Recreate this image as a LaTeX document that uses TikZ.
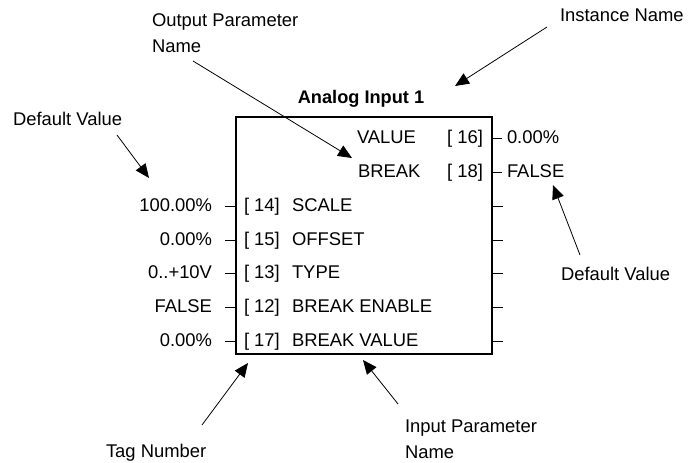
\documentclass[tikz,border=0pt]{standalone}
\usepackage{fontspec}
\setmainfont{Liberation Sans}
\usetikzlibrary{arrows.meta}
\begin{document}
\begin{tikzpicture}[x=1pt,y=-1pt,
  txt/.style={inner sep=0pt, outer sep=0pt, font=\fontsize{18.4}{22}\selectfont},
  ttl/.style={inner sep=0pt, outer sep=0pt, font=\fontsize{18.2}{22}\selectfont\bfseries},
  ann/.style={line width=0.8pt, -{Triangle[length=14pt,width=12pt]}},
  stub/.style={line width=0.9pt},
  blockbox/.style={draw, line width=2.2pt, inner sep=0pt, outer sep=0pt, minimum width=256pt, minimum height=237pt, anchor=north west}]
\useasboundingbox (0,0) rectangle (696,463);

% block
\node[blockbox] (blk) at (236,117) {};
\node[ttl, anchor=base] (title) at (361,103) {Analog Input 1};

% outputs
\node[txt, anchor=base west] (on1) at (357,143.3) {VALUE};
\node[txt, anchor=base east] (ot1) at (483,143.3) {[ 16]};
\node[txt, anchor=base west] (ov1) at (507,143.3) {0.00\%};
\draw[stub] (blk.east |- 0,138.3) -- ++(10,0);
\node[txt, anchor=base west] (on2) at (358,177.2) {BREAK};
\node[txt, anchor=base east] (ot2) at (483,177.2) {[ 18]};
\node[txt, anchor=base west] (ov2) at (507,177.2) {FALSE};
\draw[stub] (blk.east |- 0,172.2) -- ++(10,0);

% inputs
\foreach \v/\t/\n [count=\i] in {100.00\%/14/SCALE, 0.00\%/15/OFFSET, 0..+10V/13/TYPE, FALSE/12/BREAK ENABLE, 0.00\%/17/BREAK VALUE} {
  \pgfmathsetmacro\yb{143.3+33.9*(\i+1)}
  \pgfmathsetmacro\yt{\yb-5}
  \node[txt, anchor=base east] (lv\i) at (212,\yb) {\v};
  \node[txt, anchor=base west] (lt\i) at (244,\yb) {[ \t]};
  \node[txt, anchor=base west] (ln\i) at (292,\yb) {\n};
  \draw[stub] (blk.west |- 0,\yt) -- ++(-11,0);
  \draw[stub] (blk.east |- 0,\yt) -- ++(11,0);
}

% annotations
\node[txt, anchor=base west] (opa) at (152,26) {Output Parameter};
\node[txt, anchor=base west] (opb) at (152,52) {Name};
\node[txt, anchor=base west] (dvl) at (13,125) {Default Value};
\node[txt, anchor=base west] (inm) at (560,21) {Instance Name};
\node[txt, anchor=base west] (dvr) at (561,280) {Default Value};
\node[txt, anchor=base west] (tgn) at (106,457) {Tag Number};
\node[txt, anchor=base west] (ipa) at (405,432) {Input Parameter};
\node[txt, anchor=base west] (ipb) at (405,458) {Name};

\coordinate (a1s) at (193,61);  \coordinate (a1e) at (352,158);
\coordinate (a2s) at (117,135); \coordinate (a2e) at (149,178);
\coordinate (a3s) at (547,27);  \coordinate (a3e) at (455,86);
\coordinate (a4s) at (580,255); \coordinate (a4e) at (553,185);
\coordinate (a5s) at (202,425); \coordinate (a5e) at (248,363);
\coordinate (a6s) at (398,404); \coordinate (a6e) at (363,360);
\draw[ann] (a1s) -- (a1e);
\draw[ann] (a2s) -- (a2e);
\draw[ann] (a3s) -- (a3e);
\draw[ann] (a4s) -- (a4e);
\draw[ann] (a5s) -- (a5e);
\draw[ann] (a6s) -- (a6e);
\end{tikzpicture}
\end{document}
